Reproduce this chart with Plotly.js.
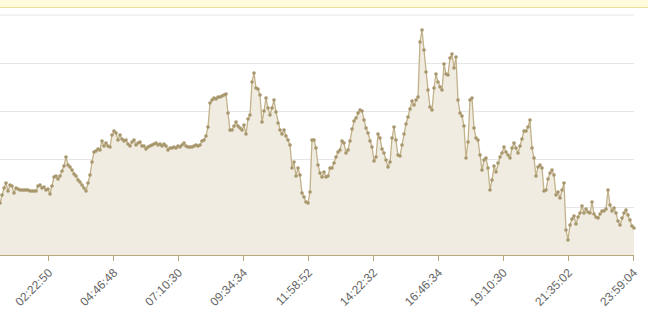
<!DOCTYPE html>
<html>
<head>
<meta charset="utf-8">
<script src="https://cdn.plot.ly/plotly-3.0.1.min.js"></script>
<style>
  html, body { margin: 0; padding: 0; background: #ffffff; }
  #banner { position: absolute; left: 0; top: 0; width: 648px; height: 7px; background: #fffbdb; border-bottom: 1px solid #eedf9f; z-index: 5; }
  #chart { position: absolute; left: 0; top: 0; width: 648px; height: 317px; }
</style>
</head>
<body>
<div id="chart"></div>
<div id="banner"></div>
<script>
// Tick labels shown on the time axis
const tickLabels = ["02:22:50", "04:46:48", "07:10:30", "09:34:34", "11:58:52",
                    "14:22:32", "16:46:34", "19:10:30", "21:35:02", "23:59:04"];

// Sampling of the series (seconds of day)
const startSeconds = 2056;
const stepSeconds = 266;

// Y grid levels
const yGridTop = 240;
const yGridStep = 48;

// Series values (regular samples)
const values = [
  52,60,67,72,64,70,69,62,67,66,65,65,65,65,65,64,64,64,64,69,70,67,68,65,66,61,69,78,79,76,
  79,84,89,98,90,88,85,81,79,75,73,70,67,64,72,80,93,103,104,106,105,114,109,112,109,108,
  120,124,122,115,120,116,114,115,111,109,113,115,110,112,113,109,109,106,108,109,110,111,112,110,
  111,109,111,109,105,107,107,108,107,109,108,110,112,109,108,108,108,109,110,109,110,114,115,119,
  128,152,155,157,156,
  158,158,159,160,161,142,125,125,129,133,129,127,125,130,121,136,140,173,182,167,166,160,133,144,
  157,147,140,147,155,143,132,125,121,125,119,115,110,87,93,79,87,80,62,58,53,52,63,115,115,107,90,82,
  78,83,78,79,87,87,92,98,103,105,114,112,102,105,114,126,134,137,142,145,144,135,127,122,114,108,
  94,98,121,117,106,102,95,88,93,117,128,115,100,99,110,121,131,138,146,154,150,155,158,
  213,225,205,183,165,148,145,167,181,173,168,165,191,181,180,197,201,187,198,155,142,139,129,97,
  113,155,157,127,117,115,100,85,95,97,87,65,75,89,83,92,98,102,108,103,100,97,
  107,112,107,102,109,116,124,124,128,135,107,97,79,88,90,87,64,65,76,82,85,80,60,63,57,65,72,25,
  15,30,36,39,31,38,42,49,42,46,43,42,53,41,38,37,41,44,44,46,65,50,44,47,42,34,30,37,42,45,40,35,29,27
];

function toSeconds(label) {
  const p = label.split(":").map(Number);
  return p[0] * 3600 + p[1] * 60 + p[2];
}
const xs = values.map((v, i) => startSeconds + i * stepSeconds);
const tickVals = tickLabels.map(toSeconds);

const trace = {
  x: xs,
  y: values,
  type: "scatter",
  mode: "lines+markers",
  fill: "tozeroy",
  fillcolor: "rgb(241,236,226)",
  line: { color: "rgb(194,178,138)", width: 1.3 },
  marker: { color: "rgb(168,150,108)", size: 3.6 },
  cliponaxis: false,
  hoverinfo: "skip"
};

const layout = {
  width: 648,
  height: 317,
  margin: { l: 0, r: 14, t: 14, b: 62 },
  paper_bgcolor: "#ffffff",
  plot_bgcolor: "#ffffff",
  showlegend: false,
  shapes: [{
    type: "line", xref: "paper", x0: 0, x1: 1, yref: "y", y0: yGridTop, y1: yGridTop,
    line: { color: "#e6e6e6", width: 1 }, layer: "below"
  }],
  xaxis: {
    type: "linear",
    range: [xs[0], xs[xs.length - 1]],
    tickmode: "array",
    tickvals: tickVals,
    ticktext: tickLabels,
    tickangle: -45,
    ticks: "outside",
    ticklen: 5,
    tickcolor: "rgb(185,166,122)",
    showline: true,
    linecolor: "rgb(185,166,122)",
    linewidth: 1,
    showgrid: false,
    zeroline: false,
    tickfont: { family: "Liberation Sans, Arial, sans-serif", size: 12, color: "#666666" }
  },
  yaxis: {
    range: [0, 241],
    tickmode: "linear",
    tick0: 0,
    dtick: yGridStep,
    showticklabels: false,
    showgrid: true,
    gridcolor: "#e6e6e6",
    gridwidth: 1,
    zeroline: false,
    showline: false,
    ticks: ""
  }
};

Plotly.newPlot("chart", [trace], layout, { staticPlot: true, displayModeBar: false });
</script>
</body>
</html>
